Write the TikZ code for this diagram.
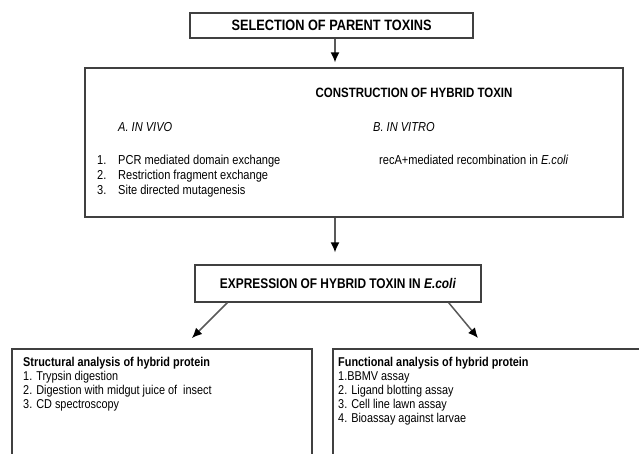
\documentclass[tikz,border=0pt]{standalone}
\usepackage{fontspec}
\setmainfont{Liberation Sans}[FakeStretch=0.85]
\usetikzlibrary{arrows.meta}

\begin{document}
\begin{tikzpicture}[x=1pt,y=-1pt,
    box/.style={draw=black!75,line width=1.2pt,inner sep=0pt},
    bigtitle/.style={font=\fontsize{15}{18}\selectfont\bfseries},
    txt/.style={font=\fontsize{13}{15}\selectfont,inner sep=0pt},
    lst/.style={txt,align=left,anchor=north west},
    small/.style={font=\fontsize{12.8}{14}\selectfont,align=left,anchor=north west,inner sep=0pt},
    arr/.style={draw=black!65,line width=1.5pt,-{Latex[length=10pt,width=9pt,color=black]}}]
  \clip (0,0) rectangle (639,454);
  % parent toxins
  \node[box,bigtitle,minimum width=283pt,minimum height=25pt] (sel) at (331.5,25.5) {SELECTION OF PARENT TOXINS};
  % construction box
  \node[box,minimum width=538pt,minimum height=149pt] (cons) at (354,142.5) {};
  \node[font=\fontsize{13.5}{16}\selectfont\bfseries,inner sep=0pt] (constitle) at (414,93) {CONSTRUCTION OF HYBRID TOXIN};
  \node[txt,anchor=west,font=\fontsize{13}{15}\selectfont\itshape] (vivo) at (118,127) {A. IN VIVO};
  \node[txt,anchor=west,font=\fontsize{13}{15}\selectfont\itshape] (vitro) at (373,127) {B. IN VITRO};
  \node[lst] (vivolist) at (97,155) {1.\hspace{11.8pt}PCR mediated domain exchange\\
    2.\hspace{11.8pt}Restriction fragment exchange\\
    3.\hspace{11.8pt}Site directed mutagenesis};
  \node[lst] (vitrolist) at (379,155) {recA+mediated recombination in \textit{E.coli}};
  % expression
  \node[box,minimum width=286pt,minimum height=37pt,font=\fontsize{14}{17}\selectfont\bfseries] (expr) at (338,283.5) {EXPRESSION OF HYBRID TOXIN IN \textit{E.coli}};
  % analysis boxes
  \node[box,minimum width=300pt,minimum height=140pt] (struct) at (162,419) {};
  \node[box,minimum width=330pt,minimum height=140pt] (func) at (498,419) {};
  \node[small] (structtxt) at (23,357) {\textbf{Structural analysis of hybrid protein}\\
    1. Trypsin digestion\\
    2. Digestion with midgut juice of\ \ insect\\
    3. CD spectroscopy};
  \node[small] (functxt) at (338,357) {\textbf{Functional analysis of hybrid protein}\\
    1.BBMV assay\\
    2. Ligand blotting assay\\
    3. Cell line lawn assay\\
    4. Bioassay against larvae};
  % arrows
  \coordinate (ltip) at (192,338);
  \coordinate (rtip) at (478,338);
  \draw[arr,shorten >=5pt] ([xshift=3.5pt]sel.south) -- ([xshift=3.5pt]sel.south |- cons.north);
  \draw[arr,shorten >=12pt] ([xshift=3.5pt]sel.south |- cons.south) -- ([xshift=3.5pt]sel.south |- expr.north);
  \draw[arr] ([xshift=33pt]expr.south west) -- (ltip);
  \draw[arr] ([xshift=-33pt]expr.south east) -- (rtip);
\end{tikzpicture}
\end{document}
